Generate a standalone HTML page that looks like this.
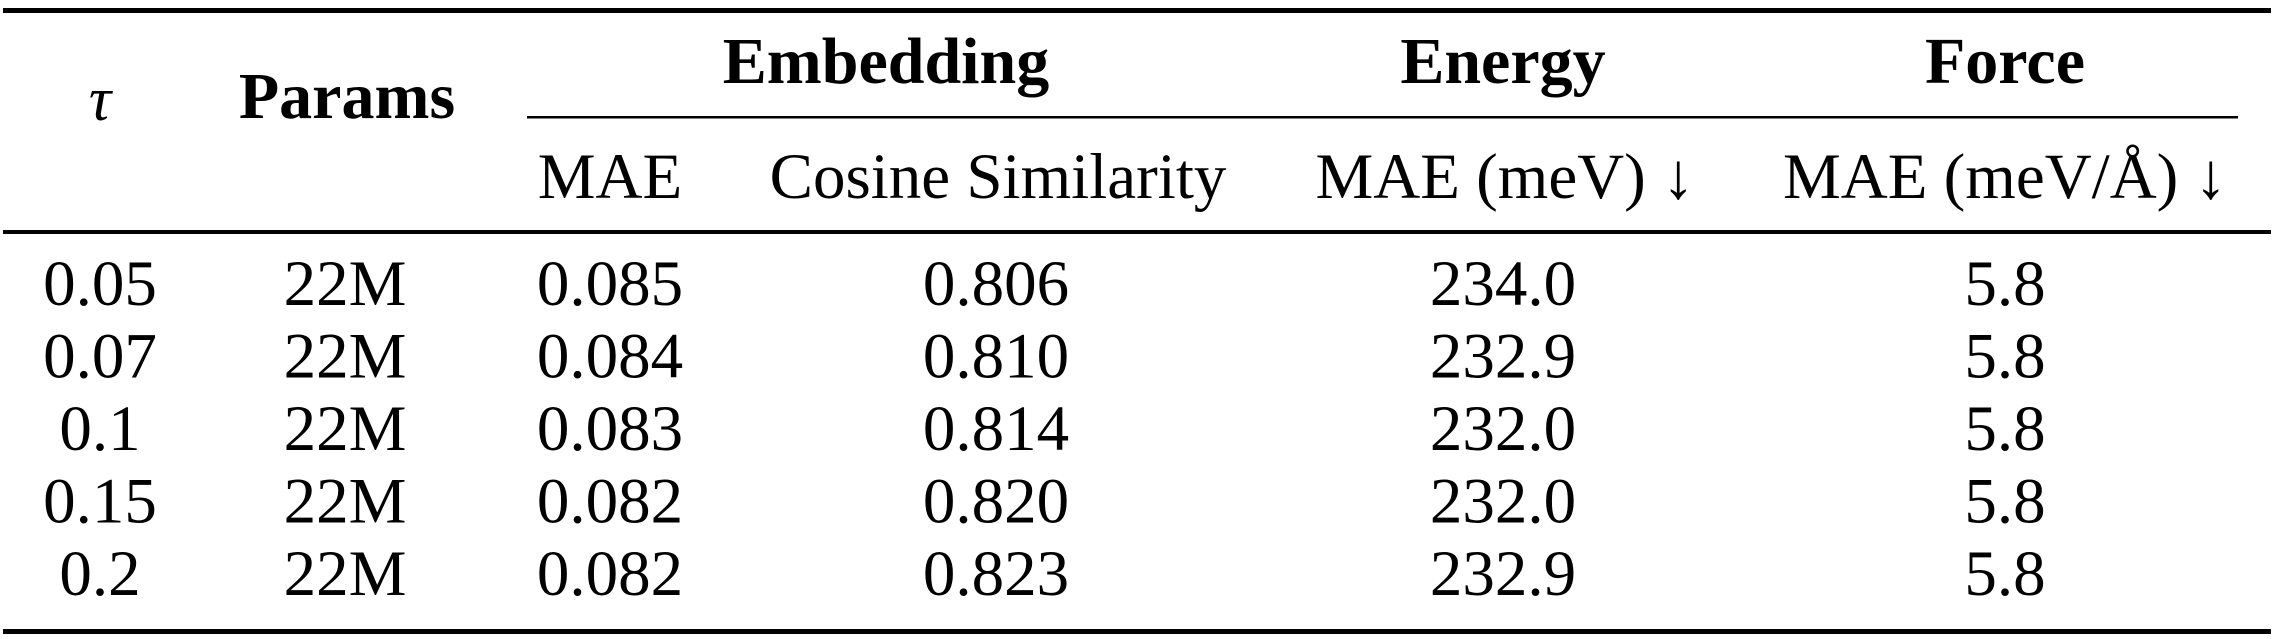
<!DOCTYPE html>
<html>
<head>
<meta charset="utf-8">
<style>
html,body{margin:0;padding:0;background:#fff;}
svg{display:block;}
text{font-family:"Liberation Serif","DejaVu Serif",serif;fill:#000;}
.b{font-weight:bold;}
</style>
</head>
<body>
<svg id="tbl" width="2277" height="639" viewBox="0 0 2277 639" xmlns="http://www.w3.org/2000/svg">
  <rect x="3" y="8" width="2268" height="5" fill="#000"/>
  <text x="100" y="120" font-size="62" font-style="italic" text-anchor="middle">τ</text>
  <text class="b" x="347" y="118" font-size="66" text-anchor="middle">Params</text>
  <text class="b" x="886" y="83" font-size="66" text-anchor="middle">Embedding</text>
  <text class="b" x="1503" y="83" font-size="66" text-anchor="middle">Energy</text>
  <text class="b" x="2005" y="83" font-size="66" text-anchor="middle">Force</text>
  <rect x="527" y="116" width="1711" height="2.5" fill="#000"/>
  <text x="610" y="198" font-size="65" text-anchor="middle">MAE</text>
  <text x="998" y="198" font-size="65" text-anchor="middle">Cosine Similarity</text>
  <text x="1505" y="198" font-size="65" text-anchor="middle">MAE (meV) ↓</text>
  <text x="2005" y="198" font-size="65" text-anchor="middle">MAE (meV/Å) ↓</text>
  <rect x="3" y="230" width="2268" height="4" fill="#000"/>
  <g id="rows"></g>
  <rect x="3" y="629" width="2268" height="5" fill="#000"/>
</svg>
<script>
const taus = ["0.05", "0.07", "0.1", "0.15", "0.2"];
const params = ["22M", "22M", "22M", "22M", "22M"];
const embMae = ["0.085", "0.084", "0.083", "0.082", "0.082"];
const cosSim = ["0.806", "0.810", "0.814", "0.820", "0.823"];
const energyMae = ["234.0", "232.9", "232.0", "232.0", "232.9"];
const forceMae = ["5.8", "5.8", "5.8", "5.8", "5.8"];

const colX = [100, 345, 610, 996, 1503, 2005];
const colNames = ["tau", "params", "embedding-mae", "cosine-similarity", "energy-mae", "force-mae"];
const rowY = i => 305 + i * 72.5;
const g = document.getElementById('rows');
const NS = "http://www.w3.org/2000/svg";
const cols = [taus, params, embMae, cosSim, energyMae, forceMae];
for (let i = 0; i < taus.length; i++) {
  for (let c = 0; c < cols.length; c++) {
    const t = document.createElementNS(NS, 'text');
    t.setAttribute('x', colX[c]);
    t.setAttribute('y', rowY(i));
    t.setAttribute('font-size', '65');
    t.setAttribute('text-anchor', 'middle');
    
    
    t.textContent = cols[c][i];
    g.appendChild(t);
  }
}
</script>
</body>
</html>
